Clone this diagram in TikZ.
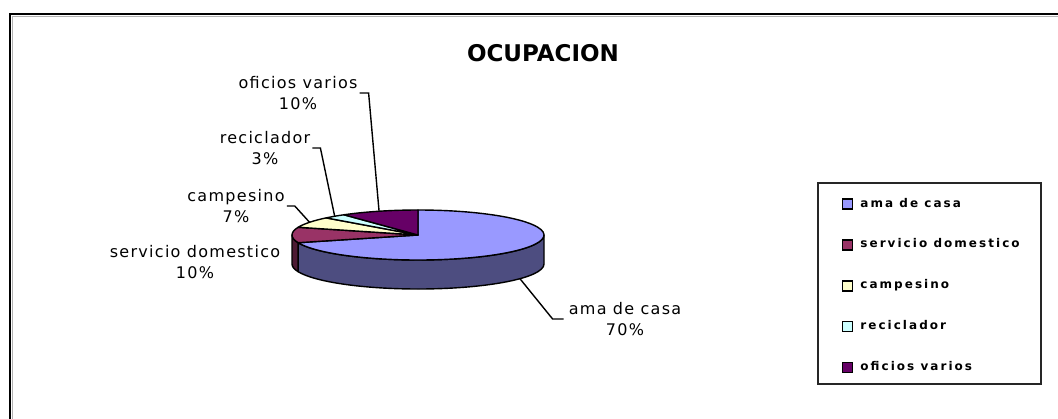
\documentclass[tikz,border=0pt]{standalone}
\usepackage{fontspec}
\setmainfont{DejaVu Sans}
\newfontfamily\labelfont[LetterSpace=8]{DejaVu Sans}
\newfontfamily\legendfont[LetterSpace=17]{DejaVu Sans Bold}
\usetikzlibrary{positioning}
\definecolor{amacol}{HTML}{9999FF}
\definecolor{amaside}{HTML}{4D4D80}
\definecolor{sercol}{HTML}{993366}
\definecolor{serside}{HTML}{4D1A33}
\definecolor{camcol}{HTML}{FFFFCC}
\definecolor{reccol}{HTML}{CCFFFF}
\definecolor{oficol}{HTML}{660066}
\tikzset{
  slice/.style={draw=black, line width=1.4pt, line join=round},
  lbl/.style={font=\labelfont\fontsize{16}{21}\selectfont, align=center, inner sep=0pt},
  leader/.style={draw=black, line width=1.4pt},
  legkey/.style={draw=black, line width=1.4pt, minimum size=10pt, inner sep=0pt},
  legtext/.style={font=\legendfont\fontsize{12}{14}\selectfont, inner sep=0pt, text height=8pt, text depth=2pt},
}
\begin{document}
\begin{tikzpicture}[x=1pt,y=1pt]
 \clip (0,0) rectangle (1058,-418);
% frame
 \draw[gray!60, line width=1pt] (12,-16) rectangle (1080,-440);
 \draw[black, line width=2pt] (10,-14) rectangle (1080,-440);
 \node[font=\bfseries\fontsize{23}{26}\selectfont] (title) at (543,-53) {OCUPACION};

% pie
 \coordinate (c) at (418,-235);
 \filldraw[slice, fill=amaside] (c) ++(198:126pt and 25pt) arc[start angle=198, end angle=360, x radius=126pt, y radius=25pt] -- ++(0,-29) arc[start angle=360, end angle=198, x radius=126pt, y radius=25pt] -- cycle;
 \filldraw[slice, fill=serside] (c) ++(180:126pt and 25pt) arc[start angle=180, end angle=198, x radius=126pt, y radius=25pt] -- ++(0,-29) arc[start angle=198, end angle=180, x radius=126pt, y radius=25pt] -- cycle;
 \filldraw[slice, fill=amacol] (c) -- ++(198:126pt and 25pt) arc[start angle=198, end angle=450, x radius=126pt, y radius=25pt] -- cycle;
 \filldraw[slice, fill=sercol] (c) -- ++(162:126pt and 25pt) arc[start angle=162, end angle=198, x radius=126pt, y radius=25pt] -- cycle;
 \filldraw[slice, fill=camcol] (c) -- ++(136.8:126pt and 25pt) arc[start angle=136.8, end angle=162, x radius=126pt, y radius=25pt] -- cycle;
 \filldraw[slice, fill=reccol] (c) -- ++(126:126pt and 25pt) arc[start angle=126, end angle=136.8, x radius=126pt, y radius=25pt] -- cycle;
 \filldraw[slice, fill=oficol] (c) -- ++(90:126pt and 25pt) arc[start angle=90, end angle=126, x radius=126pt, y radius=25pt] -- cycle;
 \path (c) ++(108:126pt and 25pt) coordinate (ofi-tip);
 \path (c) ++(131.4:126pt and 25pt) coordinate (rec-tip);
 \path (c) ++(149.4:126pt and 25pt) coordinate (cam-tip);
 \path (c) ++(-36:126pt and 25pt) ++(0,-29) coordinate (ama-tip);

% labels
 \node[lbl] (lofi) at (298,-93) {oficios varios\\10\%};
 \node[lbl] (lrec) at (265,-148) {reciclador\\3\%};
 \node[lbl] (lcam) at (236,-206) {campesino\\7\%};
 \node[lbl] (lser) at (195,-262) {servicio domestico\\10\%};
 \node[lbl] (lama) at (625,-319) {ama de casa\\70\%};
 \draw[leader] (lofi.east) ++(2,0) -- ++(9,0) -- (ofi-tip);
 \draw[leader] (lrec.east) ++(2,0) -- ++(8,0) -- (rec-tip);
 \draw[leader] (lcam.east) ++(2,0) -- ++(8,0) -- (cam-tip);
 \draw[leader] (lama.west) ++(-5,0) -- ++(-11,0) -- (ama-tip);

% legend
 \draw[black!85, line width=2pt] (818,-183) rectangle (1041,-384);
 \node[legkey, fill=amacol] (k1) at (847.5,-204) {};
 \node[legkey, fill=sercol, below=29.5pt of k1] (k2) {};
 \node[legkey, fill=camcol, below=29.5pt of k2] (k3) {};
 \node[legkey, fill=reccol, below=29.5pt of k3] (k4) {};
 \node[legkey, fill=oficol, below=29.5pt of k4] (k5) {};
 \node[legtext, right=7pt of k1] (t1) {ama de casa};
 \node[legtext, right=7pt of k2] (t2) {servicio domestico};
 \node[legtext, right=7pt of k3] (t3) {campesino};
 \node[legtext, right=7pt of k4] (t4) {reciclador};
 \node[legtext, right=7pt of k5] (t5) {oficios varios};
\end{tikzpicture}
\end{document}
